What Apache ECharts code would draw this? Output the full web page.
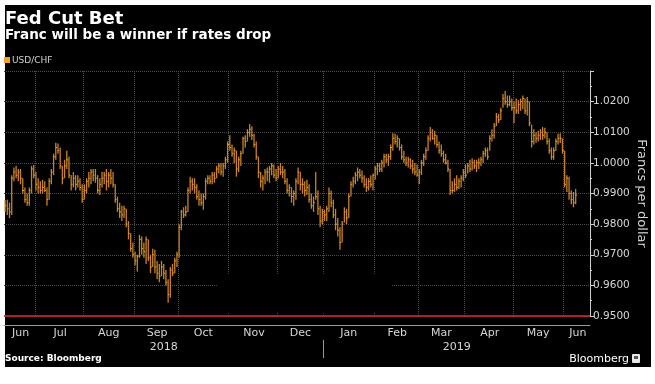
<!DOCTYPE html>
<html><head><meta charset="utf-8">
<script src="https://cdn.jsdelivr.net/npm/echarts@6/dist/echarts.min.js"></script>
<style>html,body{margin:0;padding:0;background:#fff}#c{width:655px;height:384px}</style>
</head><body><div id="c"></div>
<script>
// ---------- data ----------
const firstDay = [2018, 5, 12];   // 12 Jun 2018 (UTC, month 0-based)
const lastDay  = [2019, 5, 18];   // 18 Jun 2019, axis end
const monthNames = ['Jan','Feb','Mar','Apr','May','Jun','Jul','Aug','Sep','Oct','Nov','Dec'];
const yMin = 0.95, yMax = 1.03, yStep = 0.01;
const currentValue = 0.9895;

const lows = [0.984,0.983,0.982,0.983,0.994,0.995,0.994,0.993,0.990,0.987,
 0.986,0.986,0.990,0.995,0.991,0.990,0.990,0.990,0.9905,0.986,
 0.988,0.993,0.996,1.001,1.003,0.998,0.993,0.995,0.998,0.995,
 0.991,0.992,0.991,0.992,0.991,0.987,0.988,0.990,0.992,0.993,
 0.994,0.9935,0.990,0.9895,0.992,0.993,0.991,0.992,0.993,0.992,
 0.987,0.984,0.982,0.981,0.982,0.979,0.975,0.971,0.969,0.9665,
 0.9645,0.969,0.970,0.969,0.967,0.968,0.964,0.966,0.964,0.962,
 0.961,0.963,0.962,0.960,0.9543,0.956,0.963,0.964,0.966,0.969,
 0.978,0.982,0.9825,0.984,0.990,0.991,0.990,0.988,0.986,0.986,
 0.9847,0.988,0.993,0.993,0.993,0.9935,0.995,0.9965,0.996,0.9955,
 0.998,1.000,1.004,1.002,1.000,0.9955,0.997,0.999,1.003,1.005,
 1.007,1.0085,1.0075,1.005,1.001,0.995,0.992,0.991,0.993,0.994,
 0.9935,0.996,0.995,0.994,0.995,0.996,0.995,0.993,0.990,0.989,
 0.987,0.986,0.988,0.993,0.991,0.990,0.989,0.9895,0.987,0.985,
 0.984,0.988,0.983,0.979,0.980,0.981,0.981,0.984,0.9855,0.982,
 0.978,0.976,0.9716,0.974,0.9805,0.980,0.982,0.989,0.992,0.993,
 0.994,0.995,0.9935,0.992,0.9905,0.991,0.992,0.991,0.9945,0.996,
 0.997,0.997,0.9985,1.000,0.999,1.001,1.004,1.006,1.005,1.004,
 1.001,1.000,0.999,0.9985,0.998,0.9965,0.996,0.9955,0.993,0.996,
 0.999,1.001,1.004,1.007,1.0075,1.006,1.005,1.003,1.002,1.000,
 0.9995,0.997,0.9895,0.990,0.9905,0.991,0.9915,0.992,0.994,0.995,
 0.9965,0.997,0.9975,0.998,0.997,0.998,0.999,1.000,1.002,1.001,
 1.004,1.007,1.008,1.012,1.013,1.014,1.018,1.019,1.018,1.0185,
 1.017,1.013,1.016,1.016,1.017,1.0175,1.016,1.0155,1.012,1.005,
 1.006,1.0066,1.007,1.0075,1.0075,1.008,1.006,1.003,1.001,1.001,
 1.004,1.006,1.0065,1.003,0.992,0.9905,0.988,0.9865,0.9855,0.9865];

const highs = [0.988,0.988,0.987,0.996,0.9985,0.999,0.998,0.998,0.995,0.992,
 0.990,0.992,0.999,0.9993,0.997,0.995,0.994,0.9945,0.994,0.992,
 0.995,0.998,1.003,1.0066,1.0063,1.005,0.999,1.001,1.004,1.002,
 0.996,0.997,0.996,0.996,0.995,0.993,0.993,0.995,0.997,0.998,
 0.998,0.998,0.996,0.995,0.997,0.997,0.998,0.997,0.998,0.997,
 0.993,0.989,0.987,0.986,0.986,0.985,0.981,0.977,0.974,0.971,
 0.970,0.9765,0.976,0.974,0.976,0.975,0.970,0.972,0.9716,0.968,
 0.967,0.968,0.967,0.965,0.962,0.966,0.967,0.969,0.971,0.980,
 0.9847,0.9855,0.986,0.992,0.9955,0.995,0.995,0.993,0.991,0.990,
 0.990,0.995,0.996,0.996,0.997,0.997,0.999,1.000,1.000,1.000,
 1.002,1.007,1.009,1.006,1.005,1.004,1.002,1.004,1.0085,1.009,
 1.011,1.0127,1.012,1.0095,1.007,1.002,0.997,0.996,0.998,0.9985,
 0.999,1.000,0.9995,0.998,0.999,1.000,0.999,0.998,0.995,0.993,
 0.992,0.991,0.995,0.9985,0.997,0.995,0.994,0.9945,0.993,0.990,
 0.989,0.997,0.991,0.986,0.985,0.9847,0.986,0.992,0.991,0.988,
 0.985,0.982,0.979,0.981,0.9855,0.985,0.990,0.994,0.9955,0.997,
 0.9985,0.998,0.9975,0.996,0.995,0.995,0.996,0.9965,0.999,1.000,
 1.000,1.001,1.003,1.003,1.003,1.006,1.0097,1.0095,1.009,1.008,
 1.006,1.004,1.002,1.002,1.0015,1.001,1.000,0.9995,0.998,1.001,
 1.003,1.005,1.009,1.0117,1.011,1.0105,1.009,1.007,1.006,1.004,
 1.003,1.001,0.998,0.994,0.995,0.996,0.995,0.996,0.998,0.9995,
 1.000,1.001,1.0015,1.001,1.001,1.0015,1.002,1.004,1.005,1.005,
 1.009,1.011,1.013,1.0163,1.016,1.018,1.0225,1.0235,1.022,1.022,
 1.021,1.020,1.021,1.0205,1.021,1.022,1.021,1.0215,1.020,1.0125,
 1.011,1.010,1.0105,1.011,1.0117,1.0115,1.010,1.008,1.005,1.005,
 1.008,1.0095,1.0097,1.008,1.004,0.996,0.9955,0.991,0.9905,0.9915];

const closes = [0.986,0.985,0.984,0.995,0.997,0.996,0.997,0.995,0.991,0.988,
 0.987,0.991,0.998,0.996,0.993,0.992,0.991,0.992,0.991,0.988,
 0.994,0.997,1.002,1.005,1.004,0.999,0.995,0.999,1.001,0.996,
 0.993,0.995,0.993,0.994,0.992,0.988,0.991,0.994,0.995,0.997,
 0.996,0.995,0.991,0.993,0.995,0.996,0.994,0.996,0.995,0.993,
 0.988,0.985,0.984,0.983,0.985,0.980,0.977,0.972,0.970,0.968,
 0.9695,0.975,0.972,0.971,0.975,0.969,0.966,0.970,0.966,0.964,
 0.963,0.966,0.964,0.961,0.957,0.965,0.964,0.968,0.970,0.979,
 0.984,0.983,0.984,0.991,0.994,0.993,0.992,0.989,0.988,0.987,
 0.989,0.994,0.995,0.994,0.996,0.995,0.998,0.999,0.997,0.999,
 1.001,1.006,1.005,1.003,1.004,0.998,1.001,1.003,1.008,1.007,
 1.010,1.011,1.009,1.006,1.002,0.997,0.994,0.995,0.997,0.997,
 0.998,0.999,0.996,0.995,0.998,0.997,0.997,0.994,0.991,0.992,
 0.989,0.990,0.994,0.997,0.993,0.993,0.991,0.992,0.988,0.986,
 0.987,0.989,0.985,0.981,0.984,0.983,0.985,0.990,0.987,0.983,
 0.980,0.978,0.974,0.980,0.984,0.982,0.989,0.993,0.994,0.996,
 0.997,0.996,0.995,0.993,0.992,0.994,0.993,0.996,0.998,0.999,
 0.998,1.000,1.002,1.001,1.002,1.005,1.008,1.007,1.008,1.005,
 1.002,1.001,1.000,1.001,0.999,0.998,0.997,0.996,0.997,1.000,
 1.002,1.004,1.008,1.010,1.008,1.009,1.006,1.004,1.003,1.001,
 1.000,0.998,0.991,0.991,0.993,0.992,0.994,0.995,0.997,0.996,
 0.999,0.998,1.000,0.999,1.000,1.000,1.001,1.003,1.004,1.002,
 1.008,1.009,1.012,1.015,1.014,1.017,1.021,1.020,1.019,1.020,
 1.018,1.018,1.017,1.019,1.020,1.021,1.017,1.020,1.013,1.007,
 1.009,1.008,1.009,1.010,1.009,1.010,1.007,1.004,1.002,1.004,
 1.007,1.008,1.008,1.004,0.993,0.995,0.990,0.988,0.987,0.9895];

// ---------- categories: trading (week) days ----------
const categories = [];
const endT = Date.UTC(lastDay[0], lastDay[1], lastDay[2]);
for (let d = new Date(Date.UTC(firstDay[0], firstDay[1], firstDay[2])); d.getTime() <= endT; d.setUTCDate(d.getUTCDate() + 1)) {
  const wd = d.getUTCDay();
  if (wd === 0 || wd === 6) continue;
  categories.push(d.toISOString().slice(0, 10));
}
function groupBy(keyFn) {
  const starts = new Set(), mids = new Set();
  let cur = null, first = 0;
  categories.forEach((c, i) => {
    const k = keyFn(c);
    if (k !== cur) {
      if (cur !== null) { mids.add(Math.ceil((first + i - 1) / 2)); starts.add(i); }
      cur = k; first = i;
    }
  });
  mids.add(Math.ceil((first + categories.length - 1) / 2));
  return { starts, mids };
}
const months = groupBy(c => c.slice(0, 7));
const years = groupBy(c => c.slice(0, 4));
const yearStarts = Array.from(years.starts);

const seriesData = lows.map((l, i) => [i, l, highs[i], closes[i]]);

const FONT = '"DejaVu Sans"';
const LABEL = '#d6d6d6';
const GRIDC = '#4a4a4a';

const chart = echarts.init(document.getElementById('c'), null, { renderer: 'canvas' });
chart.setOption({
  animation: false,
  backgroundColor: '#ffffff',
  textStyle: { fontFamily: FONT },
  grid: { left: 4, right: 65, top: 71, bottom: 68, containLabel: false, outerBoundsMode: 'none' },
  xAxis: [{
    type: 'category', data: categories, boundaryGap: true, offset: 9,
    axisLine: { onZero: false, lineStyle: { color: '#9a9a9a', width: 1 } },
    axisTick: { interval: (i) => months.starts.has(i), length: 3, lineStyle: { color: '#9a9a9a' } },
    axisLabel: { interval: (i) => months.mids.has(i), formatter: v => monthNames[+v.slice(5, 7) - 1],
      color: LABEL, fontSize: 11, margin: 3, fontFamily: FONT },
    splitLine: { show: true, interval: (i) => months.starts.has(i), lineStyle: { color: GRIDC, type: 'dotted' } }
  }, {
    type: 'category', data: categories, boundaryGap: true, position: 'bottom', offset: 24,
    axisLine: { show: false }, axisTick: { show: false },
    axisLabel: { interval: (i) => years.mids.has(i), formatter: v => v.slice(0, 4),
      color: LABEL, fontSize: 11, margin: 2, fontFamily: FONT },
    splitLine: { show: false }
  }],
  yAxis: {
    type: 'value', position: 'right', min: yMin, max: yMax, interval: yStep,
    axisLine: { show: true, lineStyle: { color: '#d0d0d0' } },
    axisTick: { show: true, length: 4, lineStyle: { color: '#d0d0d0' } },
    minorTick: { show: true, splitNumber: 2, length: 2, lineStyle: { color: '#d0d0d0' } },
    axisLabel: { color: LABEL, fontSize: 10.5, margin: 3, showMaxLabel: false, formatter: v => v.toFixed(4), fontFamily: FONT },
    splitLine: { show: true, lineStyle: { color: GRIDC, type: 'dotted' } },
    name: 'Francs per dollar', nameLocation: 'middle', nameRotate: -90, nameGap: 51, nameMoveOverlap: false,
    nameTextStyle: { color: LABEL, fontSize: 13, fontFamily: FONT, verticalAlign: 'middle', align: 'center' }
  },
  series: [{
    name: 'USD/CHF', type: 'custom', xAxisIndex: 0, yAxisIndex: 0,
    itemStyle: { color: '#f2a23a' },
    encode: { x: 0, y: [1, 2, 3] },
    data: seriesData,
    clip: true,
    renderItem: function (params, api) {
      const i = api.value(0);
      const lo = api.coord([i, api.value(1)]);
      const hi = api.coord([i, api.value(2)]);
      const cl = api.coord([i, api.value(3)]);
      const bw = api.size([1, 0])[0];
      return { type: 'group', children: [
        { type: 'line', shape: { x1: lo[0], y1: lo[1], x2: hi[0], y2: hi[1] }, style: { stroke: '#c88226', lineWidth: 1.3 } },
        { type: 'line', shape: { x1: cl[0], y1: cl[1], x2: cl[0] + bw * 0.6, y2: cl[1] }, style: { stroke: '#eda43c', lineWidth: 1 } }
      ] };
    },
    markLine: {
      silent: true, symbol: 'none', animation: false,
      data: [
        { yAxis: yMin, lineStyle: { color: '#e3262d', width: 1.5, type: 'solid' }, label: { show: false } },
        { yAxis: currentValue, lineStyle: { opacity: 0 },
          label: { show: true, position: 'end', formatter: currentValue.toFixed(4), color: '#1b1b1b',
            backgroundColor: '#f2a541', padding: [2, 3, 1, 3], fontSize: 10.5, distance: 3, fontFamily: FONT } }
      ]
    }
  }, {
    // year separator below the axis, placed with the axis scale
    name: 'yearSep', type: 'custom', xAxisIndex: 0, yAxisIndex: 0, silent: true, clip: false,
    data: yearStarts.map(i => [i, yMin]),
    encode: { x: 0, y: 1 },
    renderItem: function (params, api) {
      const p = api.coord([api.value(0), api.value(1)]);
      const bw = api.size([1, 0])[0];
      const x = Math.round(p[0] - bw / 2) + 0.5;
      return { type: 'line', shape: { x1: x, y1: p[1] + 24, x2: x, y2: p[1] + 42 }, style: { stroke: '#9a9a9a', lineWidth: 1 } };
    }
  }],
  graphic: [
    { type: 'rect', z: -10, silent: true, shape: { x: 5, y: 5, width: 646, height: 362 }, style: { fill: '#000' } },
    { type: 'rect', z: 1, silent: true, shape: { x: 217, y: 274, width: 175, height: 38 }, style: { fill: '#000' } },
    { type: 'text', x: 5, y: 19, style: { text: 'Fed Cut Bet', fill: '#fff', font: 'bold 18px ' + FONT, verticalAlign: 'middle' } },
    { type: 'text', x: 5, y: 35.5, style: { text: 'Franc will be a winner if rates drop', fill: '#fff', font: 'bold 13.5px ' + FONT, verticalAlign: 'middle' } },
    { type: 'rect', shape: { x: 4, y: 57, width: 6, height: 6 }, style: { fill: '#f5a12c' } },
    { type: 'text', x: 12, y: 60.5, style: { text: 'USD/CHF', fill: '#d0d0d0', font: '9px ' + FONT, verticalAlign: 'middle' } },
    { type: 'text', x: 5, y: 359, style: { text: 'Source: Bloomberg', fill: '#fff', font: 'bold 9px ' + FONT, verticalAlign: 'middle' } },
    { type: 'text', x: 629, y: 359, style: { text: 'Bloomberg', fill: '#fff', font: '11px ' + FONT, verticalAlign: 'middle', align: 'right' } },
    { type: 'rect', shape: { x: 632, y: 354, width: 8, height: 9, r: 1 }, style: { fill: '#e8e8e8' } },
    { type: 'rect', shape: { x: 634, y: 356, width: 4, height: 3 }, style: { fill: '#555' } }
  ]
});
</script></body></html>
